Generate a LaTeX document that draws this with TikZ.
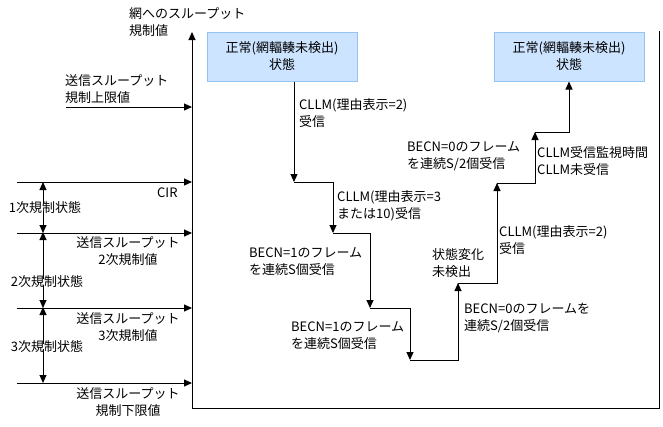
\documentclass[tikz,border=0pt]{standalone}
\usepackage{fontspec}
\setmainfont{Noto Sans CJK JP}
\usetikzlibrary{arrows.meta}

\definecolor{boxfill}{RGB}{204,228,255}
\definecolor{boxline}{RGB}{150,195,240}

\tikzset{
  tip/.style={-{Triangle[length=8pt,width=7pt]}, line width=1pt},
  plain/.style={line width=1pt},
  lbl/.style={anchor=west, align=left, inner sep=0pt, font=\fontsize{13}{17}\selectfont},
  clbl/.style={align=center, inner sep=0pt, font=\fontsize{13}{17}\selectfont},
  statebox/.style={draw=boxline, fill=boxfill, line width=1pt,
    minimum width=150pt, minimum height=49pt, align=center, inner sep=0pt,
    font=\fontsize{13}{17}\selectfont}
}

\begin{document}
\begin{tikzpicture}[x=1pt, y=-1pt]
  \useasboundingbox (0,0) rectangle (663,426);

  % axis and frame
  \coordinate (axtop) at (192,32);
  \coordinate (axbot) at (192,408);
  \coordinate (rbot) at (659,408);
  \coordinate (rtop) at (659,31);
  \draw[tip] (axbot) -- (axtop);
  \draw[plain] (axbot) -- (rbot) -- (rtop);
  \node (net) [lbl] at (129,22) {網へのスループット\\規制値};

  % levels
  \coordinate (upper) at (66,107);
  \coordinate (cir) at (17,182);
  \coordinate (second) at (17,233);
  \coordinate (third) at (17,308);
  \coordinate (lower) at (17,383);
  \draw[tip] (upper) -- (upper -| axtop);
  \draw[tip] (cir) -- (cir -| axtop);
  \draw[tip] (second) -- (second -| axtop);
  \draw[tip] (third) -- (third -| axtop);
  \draw[tip] (lower) -- (lower -| axtop);
  \node (upperl) [lbl] at (65,89) {送信スループット\\規制上限値};
  \node (cirl) [lbl] at (157,193) {CIR};
  \node (secondl) [clbl] at (128,251) {送信スループット\\2次規制値};
  \node (thirdl) [clbl] at (128,327) {送信スループット\\3次規制値};
  \node (lowerl) [clbl] at (128,402) {送信スループット\\規制下限値};

  % restriction states
  \coordinate (ax) at (43,0);
  \node (s1) [clbl] at (45,208) {1次規制状態};
  \node (s2) [clbl] at (47,282) {2次規制状態};
  \node (s3) [clbl] at (47,347) {3次規制状態};
  \draw[tip] ([yshift=-2pt]s1.north -| ax) -- (cir -| ax);
  \draw[tip] ([yshift=3pt]s1.south -| ax) -- (second -| ax);
  \draw[tip] ([yshift=-3pt]s2.north -| ax) -- ([yshift=1pt]second -| ax);
  \draw[tip] ([yshift=3pt]s2.south -| ax) -- (third -| ax);
  \draw[tip] ([yshift=-3pt]s3.north -| ax) -- ([yshift=1pt]third -| ax);
  \draw[tip] ([yshift=4pt]s3.south -| ax) -- (lower -| ax);

  % states
  \node (norm1) [statebox] at (282,56.5) {正常(網輻輳未検出)\\状態};
  \node (norm2) [statebox] at (569,56.5) {正常(網輻輳未検出)\\状態};

  \coordinate (p1) at (294,182);
  \coordinate (p2) at (333,233);
  \coordinate (p3) at (370,308);
  \coordinate (p4) at (410,360);
  \coordinate (p5) at (458,283);
  \coordinate (p6) at (497,183);
  \coordinate (p7) at (535,132);
  \draw[tip] (norm1.south -| p1) -- (p1);
  \draw[tip] (p1) -| (p2);
  \draw[tip] (p2) -| (p3);
  \draw[tip] (p3) -| (p4);
  \draw[tip] (p4) -| (p5);
  \draw[tip] (p5) -| (p6);
  \draw[tip] (p6) -| (p7);
  \draw[tip] (p7) -| (norm2.south);

  \node (e1) [lbl] at (299,113) {CLLM(理由表示=2)\\受信};
  \node (e2) [lbl] at (337,206) {CLLM(理由表示=3\\または10)受信};
  \node (e3) [lbl] at (249,262) {BECN=1のフレーム\\を連続S個受信};
  \node (e4) [lbl] at (291,336) {BECN=1のフレーム\\を連続S個受信};
  \node (e5) [lbl] at (432,263) {状態変化\\未検出};
  \node (e6) [lbl] at (464,318) {BECN=0のフレームを\\連続S/2個受信};
  \node (e7) [lbl] at (499,240) {CLLM(理由表示=2)\\受信};
  \node (e8) [lbl] at (407,156) {BECN=0のフレーム\\を連続S/2個受信};
  \node (e9) [lbl] at (537,161) {CLLM受信監視時間\\CLLM未受信};
\end{tikzpicture}
\end{document}
